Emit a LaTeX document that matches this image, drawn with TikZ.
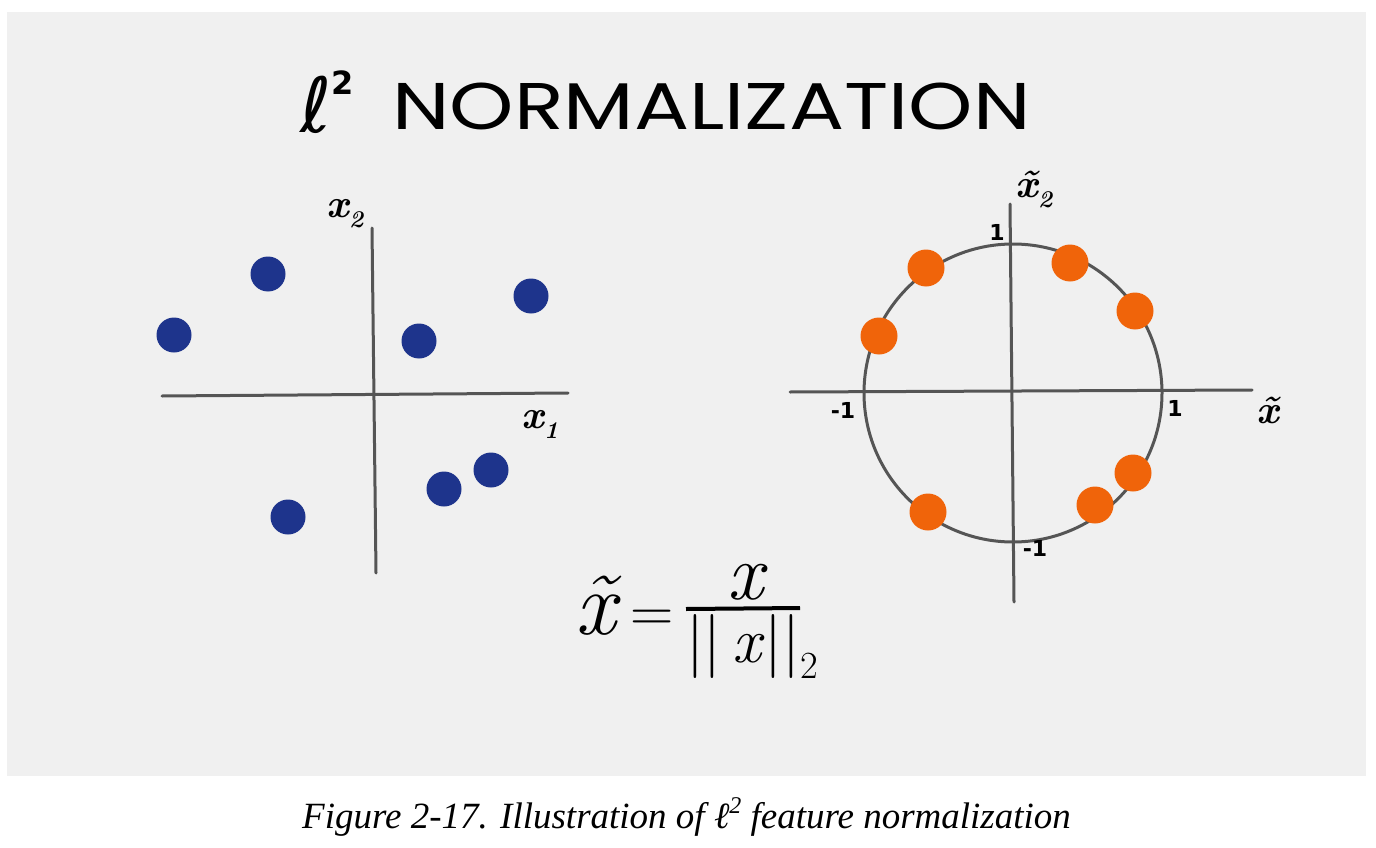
\documentclass[tikz,border=0pt]{standalone}
\usepackage{fontspec}
\newfontfamily\handfont{Poppins}
\newfontfamily\capfont{Liberation Serif}
\newfontfamily\ellfont{DejaVu Sans}
\definecolor{panel}{RGB}{240,240,240}
\definecolor{axisgray}{RGB}{85,85,85}
\definecolor{dotblue}{RGB}{30,52,140}
\definecolor{dotorange}{RGB}{240,100,10}
\newcommand{\lowsub}[1]{\raisebox{-0.25em}{\scalebox{0.6}{#1}}}
\tikzset{
  axisline/.style={draw=axisgray, line width=3pt, line cap=round},
  bluedot/.style={circle, fill=dotblue, minimum size=35pt, inner sep=0pt},
  orangedot/.style={circle, fill=dotorange, minimum size=37pt, inner sep=0pt},
  axlabel/.style={font=\fontsize{40}{40}\selectfont\bfseries\itshape, text=black, inner sep=0pt},
  ticklabel/.style={font=\ellfont\fontsize{22}{22}\selectfont\bfseries, text=black, inner sep=0pt},
}
\begin{document}
\begin{tikzpicture}[x=1pt,y=-1pt]
\useasboundingbox (0,0) rectangle (1376,848);
\fill[white] (0,0) rectangle (1376,848);
\fill[panel] (7,12) rectangle (1366,776);

% title
\node[inner sep=0pt, anchor=base west, font=\ellfont\fontsize{76}{76}\selectfont] (ell) at (300,132) {ℓ\raisebox{0.5em}{\fontsize{32}{32}\selectfont\bfseries 2}};
\node[inner sep=0pt, anchor=base west, xscale=1.24, font=\handfont\fontsize{66}{66}\selectfont] (title) at (392,130) {NORMALIZATION};

% left axes
\coordinate (lhL) at (162,396);
\coordinate (lhR) at (568,393);
\coordinate (lvT) at (372,228);
\coordinate (lvB) at (376,573);
\draw[axisline] (lhL) -- (lhR);
\draw[axisline] (lvT) -- (lvB);
\node[axlabel] (lx2) at (345,214) {x\lowsub{2}};
\node[axlabel] (lx1) at (540,424) {x\lowsub{1}};

% blue dots
\node[bluedot] (b1) at (174,335) {};
\node[bluedot] (b2) at (268,274) {};
\node[bluedot] (b3) at (531,296) {};
\node[bluedot] (b4) at (419,341) {};
\node[bluedot] (b5) at (288,517) {};
\node[bluedot] (b6) at (444,489) {};
\node[bluedot] (b7) at (491,470) {};

% right axes
\coordinate (rhL) at (790,392);
\coordinate (rhR) at (1252,390);
\coordinate (rvT) at (1010,204);
\coordinate (rvB) at (1014,602);
\draw[axisline] (rhL) -- (rhR);
\draw[axisline] (rvT) -- (rvB);
\node[inner sep=0pt, minimum size=298pt, circle, axisline] (unit) at (1013,393) {};
\node[axlabel] (rx2) at (1034,190) {\~{x}\lowsub{2}};
\node[axlabel] (rx1) at (1268,410) {\~{x}};
\node[ticklabel] (t1) at (997,232) {1};
\node[ticklabel] (tm1) at (843,410) {-1};
\node[ticklabel] (tr1) at (1175,408) {1};
\node[ticklabel] (tb1) at (1035,548) {-1};

% orange dots
\node[orangedot] (o1) at (926,268) {};
\node[orangedot] (o2) at (1070,263) {};
\node[orangedot] (o3) at (1135,311) {};
\node[orangedot] (o4) at (879,336) {};
\node[orangedot] (o5) at (1133,473) {};
\node[orangedot] (o6) at (1095,505) {};
\node[orangedot] (o7) at (928,512) {};

% formula
\node[inner sep=0pt, font=\fontsize{90}{90}\selectfont\itshape] (fxt) at (596,606) {\~{x}};
\node[inner sep=0pt, font=\fontsize{60}{60}\selectfont] (feq) at (652,621) {=};
\coordinate (barL) at (686,609);
\coordinate (barR) at (800,608);
\draw[line width=4pt, black] (barL) -- (barR);
\node[inner sep=0pt, font=\fontsize{80}{80}\selectfont\itshape] (fnum) at (745,582) {x};
\node[inner sep=0pt, font=\fontsize{64}{64}\selectfont] (fden) at (752,646) {||\,\textit{x}||\lowsub{2}};

% caption
\node[inner sep=0pt, anchor=base west, font=\capfont\itshape\fontsize{37}{37}\selectfont] (cap) at (302,828) {Figure 2-17. Illustration of ℓ\raisebox{0.4em}{\fontsize{24}{24}\selectfont 2} feature normalization};
\end{tikzpicture}
\end{document}
